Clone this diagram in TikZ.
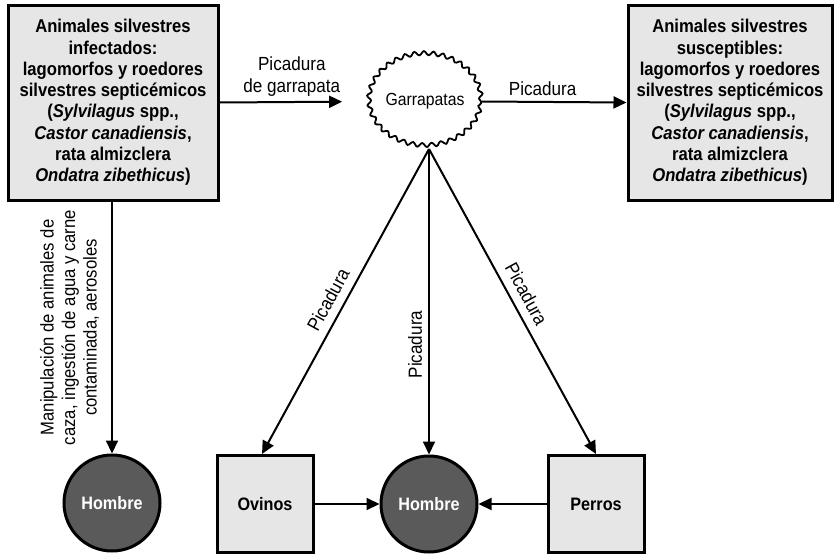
\documentclass[tikz,border=0pt]{standalone}
\usepackage{fontspec}
\setmainfont{Liberation Sans}[FakeStretch=0.9]
\usetikzlibrary{arrows.meta,shapes.geometric,decorations.pathmorphing}
\definecolor{boxgray}{HTML}{E6E6E6}
\definecolor{mangray}{HTML}{5A5A5A}
\begin{document}
\begin{tikzpicture}[x=1pt,y=-1pt,
  bigbox/.style={draw, line width=3pt, fill=boxgray, minimum width=#1, minimum height=195pt,
    inner sep=0pt, align=center, font=\fontsize{18.5}{21.3}\selectfont\bfseries},
  smallbox/.style={draw, line width=3pt, fill=boxgray, minimum width=96pt, minimum height=97pt,
    inner sep=0pt, font=\fontsize{18}{20}\selectfont\bfseries},
  man/.style={circle, draw, line width=3pt, fill=mangray, minimum size=96pt, inner sep=0pt,
    text=white, font=\fontsize{18}{20}\selectfont\bfseries},
  cloudnode/.style={draw, line width=1.8pt, ellipse, decorate,
    decoration={snake, amplitude=2pt, segment length=9.5pt},
    minimum width=112pt, minimum height=92pt, inner sep=0pt, font=\fontsize{17.5}{20}\selectfont},
  lbl/.style={font=\fontsize{19}{22}\selectfont, align=center, inner sep=2pt},
  arr/.style={line width=2pt, -{Triangle[length=13pt,width=12pt]}}
]
\useasboundingbox (0,0) rectangle (835,555);

\node[bigbox=210pt] (L) at (113,102.5) {Animales silvestres\\infectados:\\lagomorfos y roedores\\silvestres septicémicos\\(\textit{Sylvilagus} spp.,\\\textit{Castor canadiensis},\\rata almizclera\\\textit{Ondatra zibethicus})};
\node[bigbox=204pt] (R) at (730,102.5) {Animales silvestres\\susceptibles:\\lagomorfos y roedores\\silvestres septicémicos\\(\textit{Sylvilagus} spp.,\\\textit{Castor canadiensis},\\rata almizclera\\\textit{Ondatra zibethicus})};

\node[cloudnode] (C) at (425,101.5) {Garrapatas};
\coordinate (cb) at (429,149);

\node[man] (H1) at (112,503) {Hombre};
\node[smallbox] (O) at (265,504) {Ovinos};
\node[man] (H2) at (429,504) {Hombre};
\node[smallbox] (P) at (596,504) {Perros};

\draw[arr, shorten >=26pt] (L.east) -- (C.west)
  node[lbl, midway, above, xshift=-2pt, yshift=3pt] {Picadura\\de garrapata};
\draw[arr] (C.east) -- (R.west)
  node[lbl, pos=0.42, above, yshift=3pt] {Picadura};

\draw[arr] (L.south -| H1.north) -- (H1.north)
  node[lbl, midway, rotate=90, anchor=south, yshift=10pt, font=\fontsize{18.5}{21.5}\selectfont]
  {Manipulación de animales de\\caza, ingestión de agua y carne\\contaminada, aerosoles};

\draw[arr] (cb) -- ([xshift=-3pt]O.north)
  node[lbl, pos=0.52, sloped, above, yshift=6pt] {Picadura};
\draw[arr] (cb) -- (H2.north)
  node[lbl, pos=0.64, rotate=90, anchor=south, yshift=4pt] {Picadura};
\draw[arr] (cb) -- (P.north)
  node[lbl, pos=0.5, sloped, above, yshift=6pt] {Picadura};

\draw[arr] (O.east) -- (H2.west);
\draw[arr] (P.west) -- (H2.east);
\end{tikzpicture}
\end{document}
